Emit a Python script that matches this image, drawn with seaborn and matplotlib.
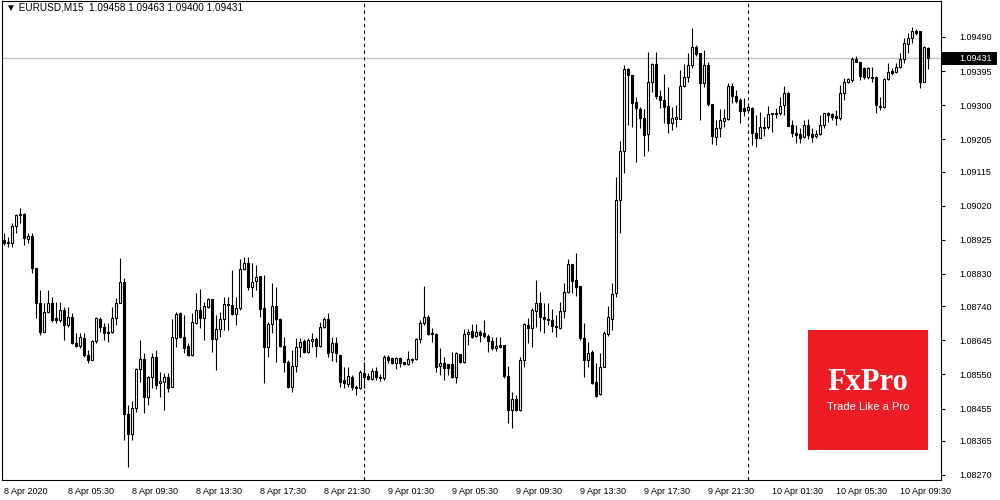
import matplotlib
matplotlib.use('Agg')
import numpy as np
import pandas as pd
import seaborn as sns
import matplotlib.pyplot as plt
from matplotlib.patches import Rectangle

# --- Styling ---
sns.set_style("white")
plt.rcParams['font.family'] = ['Liberation Sans', 'DejaVu Sans']

# EURUSD M15, 8 Apr 2020 01:30 -> 10 Apr 2020 11:15
opens = [
    1.08925, 1.08916, 1.08916, 1.08964, 1.08994, 1.08997, 1.08927, 1.08936, 1.08847, 1.08749,
    1.08668, 1.08724, 1.08749, 1.08707, 1.08702, 1.08730, 1.08688, 1.08710, 1.08638, 1.08629,
    1.08652, 1.08604, 1.08590, 1.08643, 1.08705, 1.08682, 1.08666, 1.08668, 1.08707, 1.08749,
    1.08808, 1.08440, 1.08384, 1.08457, 1.08565, 1.08593, 1.08487, 1.08543, 1.08599, 1.08526,
    1.08529, 1.08543, 1.08515, 1.08652, 1.08721, 1.08654, 1.08629, 1.08604, 1.08693, 1.08730,
    1.08707, 1.08738, 1.08760, 1.08649, 1.08677, 1.08705, 1.08746, 1.08744, 1.08718, 1.08735,
    1.08844, 1.08861, 1.08794, 1.08810, 1.08824, 1.08735, 1.08627, 1.08691, 1.08741, 1.08705,
    1.08629, 1.08585, 1.08515, 1.08574, 1.08627, 1.08643, 1.08613, 1.08643, 1.08649, 1.08629,
    1.08682, 1.08705, 1.08613, 1.08638, 1.08604, 1.08535, 1.08524, 1.08543, 1.08515, 1.08512,
    1.08554, 1.08546, 1.08537, 1.08560, 1.08543, 1.08540, 1.08599, 1.08596, 1.08582, 1.08596,
    1.08585, 1.08579, 1.08590, 1.08593, 1.08649, 1.08693, 1.08710, 1.08666, 1.08663, 1.08574,
    1.08582, 1.08579, 1.08579, 1.08543, 1.08607, 1.08585, 1.08663, 1.08671, 1.08657, 1.08668,
    1.08666, 1.08657, 1.08643, 1.08624, 1.08632, 1.08632, 1.08546, 1.08451, 1.08482, 1.08451,
    1.08590, 1.08688, 1.08680, 1.08727, 1.08749, 1.08710, 1.08705, 1.08702, 1.08685, 1.08680,
    1.08727, 1.08780, 1.08858, 1.08813, 1.08797, 1.08652, 1.08590, 1.08613, 1.08529, 1.08496,
    1.08571, 1.08663, 1.08705, 1.08777, 1.09036, 1.09172, 1.09401, 1.09384, 1.09309, 1.09289,
    1.09264, 1.09220, 1.09365, 1.09415, 1.09326, 1.09315, 1.09298, 1.09250, 1.09262, 1.09262,
    1.09354, 1.09379, 1.09412, 1.09462, 1.09445, 1.09362, 1.09412, 1.09303, 1.09211, 1.09237,
    1.09256, 1.09262, 1.09354, 1.09326, 1.09315, 1.09292, 1.09287, 1.09292, 1.09223, 1.09209,
    1.09239, 1.09239, 1.09276, 1.09278, 1.09278, 1.09301, 1.09334, 1.09245, 1.09223, 1.09220,
    1.09211, 1.09245, 1.09220, 1.09214, 1.09220, 1.09245, 1.09278, 1.09276, 1.09270, 1.09264,
    1.09334, 1.09365, 1.09370, 1.09429, 1.09420, 1.09404, 1.09379, 1.09379, 1.09379, 1.09298,
    1.09295, 1.09373, 1.09395, 1.09392, 1.09406, 1.09429, 1.09470, 1.09487, 1.09507, 1.09507,
    1.09365, 1.09458,
]
highs = [
    1.08944, 1.08933, 1.08972, 1.08997, 1.09014, 1.09000, 1.08944, 1.08944, 1.08847, 1.08786,
    1.08749, 1.08786, 1.08766, 1.08752, 1.08752, 1.08738, 1.08738, 1.08721, 1.08666, 1.08666,
    1.08666, 1.08618, 1.08646, 1.08710, 1.08710, 1.08693, 1.08693, 1.08738, 1.08763, 1.08875,
    1.08819, 1.08465, 1.08476, 1.08568, 1.08646, 1.08610, 1.08546, 1.08610, 1.08618, 1.08557,
    1.08554, 1.08554, 1.08705, 1.08724, 1.08724, 1.08716, 1.08638, 1.08721, 1.08777, 1.08788,
    1.08752, 1.08763, 1.08760, 1.08716, 1.08724, 1.08766, 1.08766, 1.08841, 1.08766, 1.08872,
    1.08877, 1.08877, 1.08861, 1.08855, 1.08824, 1.08827, 1.08696, 1.08805, 1.08794, 1.08707,
    1.08654, 1.08590, 1.08618, 1.08652, 1.08652, 1.08649, 1.08652, 1.08666, 1.08654, 1.08696,
    1.08710, 1.08721, 1.08654, 1.08654, 1.08604, 1.08571, 1.08571, 1.08549, 1.08521, 1.08563,
    1.08585, 1.08554, 1.08568, 1.08571, 1.08551, 1.08604, 1.08604, 1.08599, 1.08599, 1.08599,
    1.08585, 1.08615, 1.08596, 1.08652, 1.08702, 1.08797, 1.08716, 1.08680, 1.08666, 1.08624,
    1.08599, 1.08579, 1.08613, 1.08613, 1.08607, 1.08677, 1.08677, 1.08691, 1.08691, 1.08674,
    1.08702, 1.08663, 1.08654, 1.08654, 1.08654, 1.08632, 1.08574, 1.08501, 1.08493, 1.08599,
    1.08693, 1.08707, 1.08735, 1.08813, 1.08780, 1.08749, 1.08749, 1.08732, 1.08716, 1.08752,
    1.08805, 1.08872, 1.08858, 1.08888, 1.08797, 1.08693, 1.08641, 1.08618, 1.08582, 1.08610,
    1.08671, 1.08741, 1.08805, 1.09100, 1.09200, 1.09412, 1.09404, 1.09384, 1.09323, 1.09295,
    1.09289, 1.09448, 1.09418, 1.09448, 1.09342, 1.09387, 1.09351, 1.09295, 1.09301, 1.09398,
    1.09415, 1.09445, 1.09515, 1.09468, 1.09445, 1.09454, 1.09420, 1.09303, 1.09259, 1.09289,
    1.09289, 1.09362, 1.09362, 1.09342, 1.09320, 1.09320, 1.09306, 1.09295, 1.09273, 1.09281,
    1.09267, 1.09298, 1.09278, 1.09292, 1.09323, 1.09354, 1.09337, 1.09259, 1.09245, 1.09237,
    1.09259, 1.09262, 1.09237, 1.09231, 1.09273, 1.09278, 1.09281, 1.09278, 1.09287, 1.09356,
    1.09376, 1.09376, 1.09434, 1.09437, 1.09420, 1.09406, 1.09406, 1.09406, 1.09381, 1.09323,
    1.09376, 1.09418, 1.09404, 1.09418, 1.09445, 1.09487, 1.09501, 1.09518, 1.09512, 1.09507,
    1.09465, 1.09463,
]
lows = [
    1.08911, 1.08905, 1.08905, 1.08944, 1.08972, 1.08911, 1.08916, 1.08833, 1.08707, 1.08660,
    1.08668, 1.08721, 1.08696, 1.08693, 1.08696, 1.08646, 1.08682, 1.08635, 1.08627, 1.08624,
    1.08599, 1.08582, 1.08590, 1.08638, 1.08668, 1.08646, 1.08641, 1.08666, 1.08688, 1.08749,
    1.08368, 1.08292, 1.08368, 1.08446, 1.08529, 1.08443, 1.08465, 1.08512, 1.08510, 1.08487,
    1.08451, 1.08501, 1.08515, 1.08627, 1.08652, 1.08610, 1.08602, 1.08602, 1.08691, 1.08680,
    1.08646, 1.08735, 1.08613, 1.08563, 1.08654, 1.08674, 1.08674, 1.08716, 1.08688, 1.08730,
    1.08841, 1.08786, 1.08766, 1.08786, 1.08710, 1.08526, 1.08599, 1.08666, 1.08585, 1.08627,
    1.08557, 1.08512, 1.08501, 1.08557, 1.08599, 1.08610, 1.08610, 1.08627, 1.08599, 1.08627,
    1.08680, 1.08599, 1.08588, 1.08585, 1.08515, 1.08512, 1.08515, 1.08507, 1.08493, 1.08510,
    1.08512, 1.08535, 1.08535, 1.08535, 1.08532, 1.08535, 1.08582, 1.08579, 1.08565, 1.08571,
    1.08576, 1.08576, 1.08582, 1.08590, 1.08638, 1.08688, 1.08660, 1.08641, 1.08557, 1.08549,
    1.08535, 1.08549, 1.08540, 1.08526, 1.08582, 1.08582, 1.08632, 1.08652, 1.08654, 1.08641,
    1.08652, 1.08613, 1.08618, 1.08615, 1.08624, 1.08540, 1.08415, 1.08401, 1.08448, 1.08448,
    1.08571, 1.08638, 1.08627, 1.08682, 1.08671, 1.08666, 1.08688, 1.08668, 1.08654, 1.08677,
    1.08707, 1.08777, 1.08777, 1.08769, 1.08646, 1.08543, 1.08571, 1.08524, 1.08487, 1.08493,
    1.08571, 1.08657, 1.08674, 1.08766, 1.08944, 1.09111, 1.09245, 1.09239, 1.09142, 1.09237,
    1.09159, 1.09172, 1.09337, 1.09317, 1.09292, 1.09250, 1.09223, 1.09231, 1.09239, 1.09262,
    1.09351, 1.09365, 1.09404, 1.09437, 1.09259, 1.09351, 1.09298, 1.09192, 1.09189, 1.09211,
    1.09239, 1.09259, 1.09306, 1.09306, 1.09250, 1.09270, 1.09281, 1.09189, 1.09184, 1.09209,
    1.09214, 1.09234, 1.09225, 1.09264, 1.09273, 1.09273, 1.09242, 1.09211, 1.09195, 1.09195,
    1.09209, 1.09206, 1.09198, 1.09209, 1.09217, 1.09237, 1.09253, 1.09259, 1.09245, 1.09259,
    1.09315, 1.09362, 1.09365, 1.09420, 1.09370, 1.09373, 1.09373, 1.09365, 1.09278, 1.09287,
    1.09292, 1.09370, 1.09384, 1.09390, 1.09404, 1.09418, 1.09445, 1.09473, 1.09496, 1.09348,
    1.09365, 1.09400,
]
closes = [
    1.08916, 1.08919, 1.08964, 1.08994, 1.08997, 1.08930, 1.08936, 1.08847, 1.08749, 1.08668,
    1.08724, 1.08749, 1.08702, 1.08702, 1.08730, 1.08688, 1.08710, 1.08638, 1.08629, 1.08654,
    1.08604, 1.08590, 1.08643, 1.08707, 1.08682, 1.08666, 1.08668, 1.08707, 1.08749, 1.08808,
    1.08440, 1.08384, 1.08457, 1.08565, 1.08593, 1.08487, 1.08543, 1.08599, 1.08521, 1.08532,
    1.08543, 1.08512, 1.08654, 1.08718, 1.08654, 1.08624, 1.08604, 1.08696, 1.08730, 1.08707,
    1.08741, 1.08760, 1.08649, 1.08677, 1.08705, 1.08746, 1.08744, 1.08718, 1.08735, 1.08844,
    1.08861, 1.08794, 1.08808, 1.08822, 1.08732, 1.08627, 1.08691, 1.08741, 1.08705, 1.08629,
    1.08585, 1.08515, 1.08574, 1.08627, 1.08641, 1.08613, 1.08646, 1.08649, 1.08629, 1.08682,
    1.08705, 1.08610, 1.08638, 1.08610, 1.08529, 1.08526, 1.08546, 1.08515, 1.08512, 1.08557,
    1.08543, 1.08537, 1.08560, 1.08543, 1.08540, 1.08599, 1.08590, 1.08582, 1.08596, 1.08582,
    1.08579, 1.08593, 1.08593, 1.08649, 1.08693, 1.08710, 1.08663, 1.08663, 1.08571, 1.08582,
    1.08568, 1.08568, 1.08543, 1.08610, 1.08585, 1.08663, 1.08668, 1.08654, 1.08668, 1.08660,
    1.08657, 1.08643, 1.08624, 1.08629, 1.08627, 1.08546, 1.08451, 1.08482, 1.08451, 1.08590,
    1.08691, 1.08680, 1.08730, 1.08749, 1.08710, 1.08705, 1.08702, 1.08685, 1.08682, 1.08727,
    1.08780, 1.08858, 1.08810, 1.08794, 1.08652, 1.08590, 1.08610, 1.08526, 1.08490, 1.08571,
    1.08666, 1.08710, 1.08774, 1.09036, 1.09172, 1.09401, 1.09384, 1.09306, 1.09292, 1.09264,
    1.09217, 1.09365, 1.09415, 1.09326, 1.09315, 1.09295, 1.09250, 1.09264, 1.09267, 1.09354,
    1.09379, 1.09412, 1.09462, 1.09443, 1.09362, 1.09412, 1.09303, 1.09214, 1.09237, 1.09259,
    1.09264, 1.09354, 1.09326, 1.09312, 1.09284, 1.09284, 1.09295, 1.09223, 1.09209, 1.09239,
    1.09237, 1.09276, 1.09278, 1.09276, 1.09298, 1.09334, 1.09242, 1.09223, 1.09217, 1.09209,
    1.09245, 1.09217, 1.09211, 1.09220, 1.09245, 1.09278, 1.09273, 1.09267, 1.09264, 1.09334,
    1.09365, 1.09373, 1.09429, 1.09420, 1.09381, 1.09379, 1.09404, 1.09376, 1.09301, 1.09295,
    1.09373, 1.09392, 1.09390, 1.09406, 1.09429, 1.09473, 1.09487, 1.09507, 1.09501, 1.09365,
    1.09462, 1.09431,
]

price_ticks = [1.09490, 1.09395, 1.09300, 1.09205, 1.09115, 1.09020, 1.08925,
               1.08830, 1.08740, 1.08645, 1.08550, 1.08455, 1.08365, 1.08270]
time_labels = ['8 Apr 2020', '8 Apr 05:30', '8 Apr 09:30', '8 Apr 13:30', '8 Apr 17:30',
               '8 Apr 21:30', '9 Apr 01:30', '9 Apr 05:30', '9 Apr 09:30', '9 Apr 13:30',
               '9 Apr 17:30', '9 Apr 21:30', '10 Apr 01:30', '10 Apr 05:30', '10 Apr 09:30']
last_price = 1.09431

df = pd.DataFrame({'open': opens, 'high': highs, 'low': lows, 'close': closes})
df['time'] = pd.date_range('2020-04-08 01:30', periods=len(df), freq='15min')
df['bar'] = np.arange(len(df))
df['up'] = df['close'] >= df['open']

fig = plt.figure(figsize=(10, 5), dpi=100)
ax = fig.add_axes([0.002, 0.04, 0.939, 0.958])

# wicks then bodies
ax.vlines(df['bar'], df['low'], df['high'], color='black', lw=0.8, zorder=2)
body_lo = df[['open', 'close']].min(axis=1)
body_h = (df['close'] - df['open']).abs().clip(lower=0.000001)
ax.bar(df['bar'], body_h, bottom=body_lo, width=0.55,
       color=np.where(df['up'], 'white', 'black'), edgecolor='black', lw=0.8, zorder=3)

# bid line
ax.axhline(last_price, color='#c0c0c0', lw=1, zorder=1)

# day separators
for b in df.loc[(df['time'].dt.hour == 0) & (df['time'].dt.minute == 0), 'bar']:
    ax.axvline(b, color='black', lw=0.8, ls=(0, (3, 3)), zorder=1)

ax.set_xlim(-0.4, 234.35)
ax.set_ylim(1.08256, 1.09590)

ax.yaxis.tick_right()
ax.set_yticks(price_ticks)
ax.set_yticklabels([f'{p:.5f}' for p in price_ticks])
ax.set_xticks(df['bar'][::16])
ax.set_xticklabels(time_labels, ha='left')
ax.tick_params(axis='both', direction='out', length=3, width=0.8, colors='black',
               labelsize=6.5, pad=2)
ax.tick_params(axis='y', pad=10.5)
for s in ax.spines.values():
    s.set_color('black')
    s.set_linewidth(0.8)

# current price tag on the price scale
ax.add_patch(Rectangle((1.0, last_price - 0.00018), 0.06, 0.00036,
                       transform=ax.get_yaxis_transform(), clip_on=False,
                       facecolor='black', edgecolor='none'))
ax.text(1.02, last_price, f'{last_price:.5f}', transform=ax.get_yaxis_transform(),
        ha='left', va='center', color='white', fontsize=6.5)

fig.text(0.006, 0.984, '\u25bc EURUSD,M15  1.09458 1.09463 1.09400 1.09431',
         fontsize=7.2, va='center', ha='left', color='black')

# FxPro badge
logo = fig.add_axes([0.808, 0.1, 0.12, 0.24])
logo.set_facecolor('#ee1c25')
logo.set_xticks([])
logo.set_yticks([])
for s in logo.spines.values():
    s.set_visible(False)
logo.text(0.5, 0.56, 'FxPro', color='white', fontsize=22, ha='center', va='center',
          family='Liberation Serif', fontweight='bold')
logo.text(0.5, 0.36, 'Trade Like a Pro', color='white', fontsize=8, ha='center', va='center')

fig.savefig('out.png', dpi=100)
